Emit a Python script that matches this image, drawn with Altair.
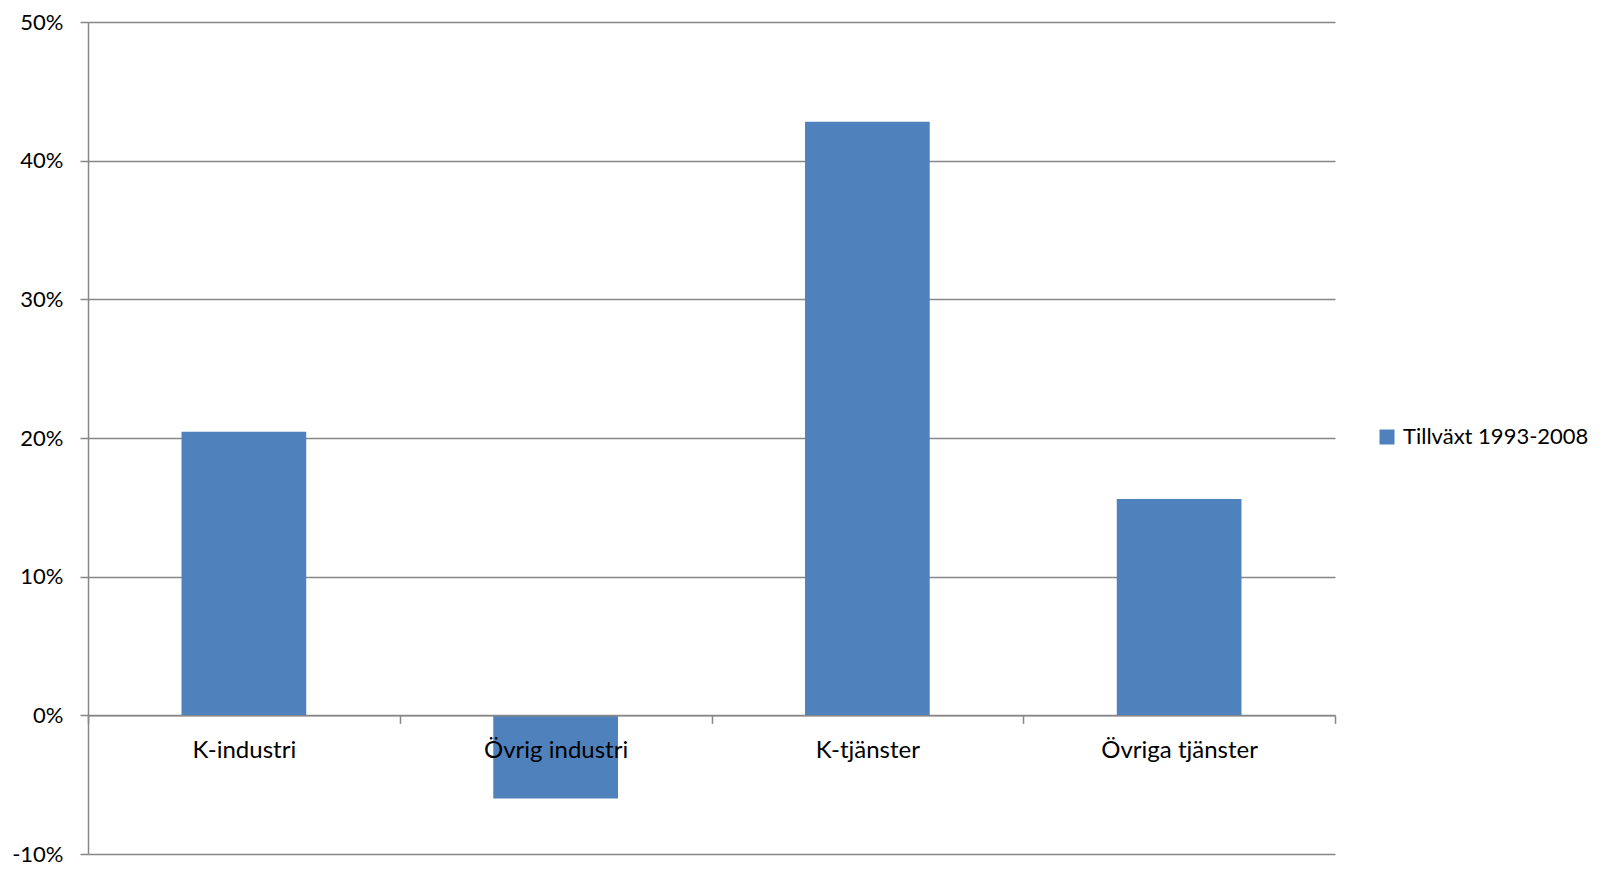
import altair as alt
import pandas as pd

categories = ["K-industri", "Övrig industri", "K-tjänster", "Övriga tjänster"]
values = [0.2045, -0.060, 0.428, 0.156]
series_name = "Tillväxt 1993-2008"
y_ticks = [-0.1, 0.0, 0.1, 0.2, 0.3, 0.4, 0.5]

df = pd.DataFrame({"kategori": categories, "varde": values, "serie": [series_name] * len(categories)})

W, H = 1247, 832
ymin, ymax = -0.1, 0.5
zero_offset = -H * (0 - ymin) / (ymax - ymin)

FONT = "Lato"
GRID = "#878787"

bars = alt.Chart(df).mark_bar(width=alt.RelativeBandSize(0.4)).encode(
    x=alt.X(
        "kategori:N",
        sort=categories,
        title=None,
        scale=alt.Scale(paddingInner=0, paddingOuter=0),
        axis=alt.Axis(
            orient="bottom",
            offset=zero_offset,
            tickBand="extent",
            labelAngle=0,
            labelFont=FONT,
            labelFontSize=24,
            labelColor="#000000",
            labelPadding=15,
            tickSize=8,
            tickColor=GRID,
            tickWidth=1.5,
            domainColor=GRID,
            domainWidth=1.5,
            grid=False,
            zindex=1,
        ),
    ),
    y=alt.Y(
        "varde:Q",
        title=None,
        scale=alt.Scale(domain=[ymin, ymax], nice=False, zero=False),
        axis=alt.Axis(
            values=y_ticks,
            labelExpr="replace(format(datum.value, '.0%'), '\u2212', '-')",
            labelFont=FONT,
            labelFontSize=22,
            labelColor="#000000",
            labelPadding=17,
            tickSize=8,
            tickColor=GRID,
            tickWidth=1.5,
            domainColor=GRID,
            domainWidth=1.5,
            grid=True,
            gridColor=GRID,
            gridWidth=1.5,
        ),
    ),
    color=alt.Color(
        "serie:N",
        scale=alt.Scale(domain=[series_name], range=["#4F81BD"]),
        legend=alt.Legend(
            title=None,
            orient="none",
            legendX=1288,
            legendY=404,
            symbolType="square",
            symbolSize=225,
            symbolStrokeWidth=0,
            labelFont=FONT,
            labelFontSize=22,
            labelColor="#000000",
            labelOffset=5,
            labelLimit=400,
        ),
    ),
)

chart = bars.properties(
    width=W,
    height=H,
    autosize=alt.AutoSizeParams(type="none"),
    padding={"left": 80, "top": 14, "right": 259, "bottom": 12},
    background="#ffffff",
).configure_view(stroke=None)

chart.save("out.html", embed_options={"renderer": "svg", "actions": False})
